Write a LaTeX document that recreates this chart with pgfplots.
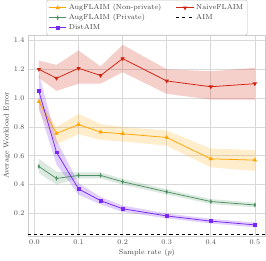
\documentclass[border=0pt]{standalone}
\usepackage{pgfplots}
\pgfplotsset{compat=1.18}
\definecolor{corange}{RGB}{255,165,0}
\definecolor{cred}{RGB}{210,35,15}
\definecolor{cgreen}{RGB}{80,145,100}
\definecolor{cpurple}{RGB}{120,40,245}
\begin{document}
\begin{tikzpicture}
\begin{axis}[
  scale only axis, width=231bp, height=195bp,
  xmin=-0.0145, xmax=0.5245, ymin=0.045, ymax=1.436,
  xtick={0,0.1,0.2,0.3,0.4,0.5},
  xticklabels={0.0,0.1,0.2,0.3,0.4,0.5},
  ytick={0.2,0.4,0.6,0.8,1.0,1.2,1.4},
  yticklabels={0.2,0.4,0.6,0.8,1.0,1.2,1.4},
  grid=major, grid style={gray!30, line width=0.6pt},
  axis line style={gray!40},
  major tick length=0pt,
  tick label style={font=\fontsize{7}{8}\selectfont, text=black!70},
  label style={font=\fontsize{7}{8}\selectfont, text=black!75},
  xlabel={Sample rate ($p$)}, ylabel={Average Workload Error},
  xlabel style={yshift=2pt}, ylabel style={yshift=-3pt},
  legend columns=2,
  legend style={at={(0.5,1.0)}, anchor=south, font=\fontsize{7}{8}\selectfont,
    draw=gray!50, fill=white, rounded corners=1.5pt, text=black!75,
    /tikz/every even column/.append style={column sep=12pt},
    row sep=-1pt, inner sep=2pt},
  legend cell align=left,
]
% bands
\addplot[fill=cred, fill opacity=0.22, draw=none, forget plot] coordinates {
 (0.01,1.26) (0.05,1.23) (0.1,1.33) (0.15,1.22) (0.2,1.37) (0.3,1.20) (0.4,1.186) (0.5,1.21)
 (0.5,0.99) (0.4,0.99) (0.3,1.03) (0.2,1.18) (0.15,1.10) (0.1,1.10) (0.05,1.05) (0.01,1.14)};
\addplot[fill=corange, fill opacity=0.2, draw=none, forget plot] coordinates {
 (0.01,1.0) (0.05,0.80) (0.1,0.89) (0.15,0.82) (0.2,0.80) (0.3,0.775) (0.4,0.65) (0.5,0.64)
 (0.5,0.495) (0.4,0.52) (0.3,0.67) (0.2,0.70) (0.15,0.71) (0.1,0.75) (0.05,0.68) (0.01,0.91)};
\addplot[fill=cgreen, fill opacity=0.2, draw=none, forget plot] coordinates {
 (0.01,0.58) (0.05,0.49) (0.1,0.485) (0.15,0.485) (0.2,0.44) (0.3,0.368) (0.4,0.30) (0.5,0.275)
 (0.5,0.243) (0.4,0.266) (0.3,0.332) (0.2,0.40) (0.15,0.443) (0.1,0.443) (0.05,0.40) (0.01,0.48)};
\addplot[fill=cpurple, fill opacity=0.22, draw=none, forget plot] coordinates {
 (0.01,1.17) (0.05,0.71) (0.1,0.41) (0.15,0.315) (0.2,0.255) (0.3,0.20) (0.4,0.163) (0.5,0.138)
 (0.5,0.104) (0.4,0.131) (0.3,0.166) (0.2,0.211) (0.15,0.263) (0.1,0.33) (0.05,0.54) (0.01,0.93)};
% lines
\addplot[corange, line width=0.75pt, mark=triangle*, mark size=1.7pt] coordinates {
 (0.01,0.976) (0.05,0.755) (0.1,0.817) (0.15,0.764) (0.2,0.753) (0.3,0.727) (0.4,0.579) (0.5,0.570)};
\addlegendentry{AugFLAIM (Non-private)}
\addplot[cred, line width=0.75pt, mark=triangle*, mark size=1.7pt, mark options={rotate=180}] coordinates {
 (0.01,1.200) (0.05,1.138) (0.1,1.207) (0.15,1.157) (0.2,1.274) (0.3,1.119) (0.4,1.079) (0.5,1.100)};
\addlegendentry{NaiveFLAIM}
\addplot[cgreen, line width=0.75pt, mark=diamond*, mark size=1.6pt, mark options={xscale=0.6}] coordinates {
 (0.01,0.526) (0.05,0.443) (0.1,0.464) (0.15,0.464) (0.2,0.420) (0.3,0.350) (0.4,0.283) (0.5,0.259)};
\addlegendentry{AugFLAIM (Private)}
\addplot[black, dashed, line width=0.9pt] coordinates {(-0.0145,0.054) (0.5245,0.054)};
\addlegendentry{AIM}
\addplot[cpurple, line width=0.75pt, mark=square*, mark size=1.4pt] coordinates {
 (0.01,1.048) (0.05,0.624) (0.1,0.370) (0.15,0.289) (0.2,0.233) (0.3,0.183) (0.4,0.147) (0.5,0.121)};
\addlegendentry{DistAIM}
\end{axis}
\end{tikzpicture}
\end{document}
